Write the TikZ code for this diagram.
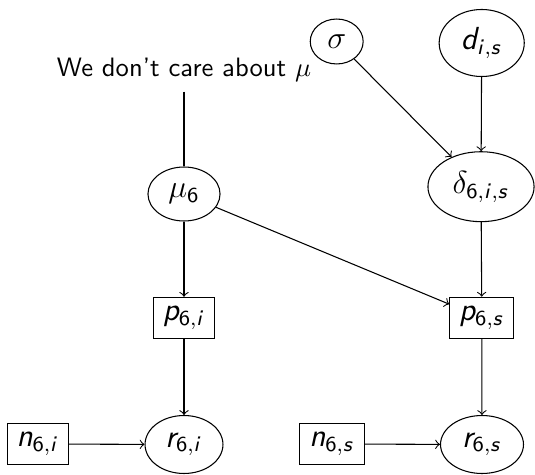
\documentclass[tikz,border=0pt]{standalone}
\usetikzlibrary{shapes.geometric}
% sans italic letters and sans digits in math, Greek stays default
\DeclareMathAlphabet{\mathsfit}{OT1}{cmss}{m}{sl}
\DeclareMathAlphabet{\mathsfup}{OT1}{cmss}{m}{n}
\newcommand{\vv}[1]{\mathsfit{#1}}
\newcommand{\dg}[1]{\mathsfup{#1}}
\begin{document}
\begin{tikzpicture}[x=0.376pt,y=-0.376pt,
  every node/.style={font=\sffamily},
  var/.style={draw,ellipse,inner sep=0pt,font=\sffamily\large},
  obs/.style={draw,rectangle,inner sep=0pt,minimum height=15.4pt,font=\sffamily\large},
  edge/.style={->,>=to}]
\useasboundingbox (0,0) rectangle (535,474);

\node[anchor=base] (note) at (184,77) {We don’t care about $\mu$};
\node[var,minimum width=19.9pt,minimum height=16.9pt] (sigma) at (336.7,41.5) {$\sigma$};
\node[var,minimum width=32pt,minimum height=25.2pt] (d) at (481.7,43) {$\vv{d}_{\vv{i},\vv{s}}$};
\node[var,minimum width=39.9pt,minimum height=26.3pt] (delta) at (481,186.7) {$\delta_{\dg{6},\vv{i},\vv{s}}$};
\node[var,minimum width=27.1pt,minimum height=20.3pt] (mu) at (184,194) {$\mu_{\dg{6}}$};
\node[obs,minimum width=22.9pt] (pi) at (184,317.8) {$\vv{p}_{\dg{6},\vv{i}}$};
\node[obs,minimum width=24.1pt] (ps) at (481.8,317.7) {$\vv{p}_{\dg{6},\vv{s}}$};
\node[var,minimum width=29.3pt,minimum height=21.8pt] (ri) at (184,444.5) {$\vv{r}_{\dg{6},\vv{i}}$};
\node[var,minimum width=31.2pt,minimum height=21.8pt] (rs) at (482,444.5) {$\vv{r}_{\dg{6},\vv{s}}$};
\node[obs,minimum width=22.9pt] (ni) at (37.8,444) {$\vv{n}_{\dg{6},\vv{i}}$};
\node[obs,minimum width=24.1pt] (ns) at (332,444) {$\vv{n}_{\dg{6},\vv{s}}$};

\draw (note) -- (mu);
\draw[edge] (sigma) -- (delta);
\draw[edge] (d) -- (delta);
\draw[edge] (delta) -- (ps);
\draw[edge] (mu) -- (ps);
\draw[edge] (mu) -- (pi);
\draw[edge] (pi) -- (ri);
\draw[edge] (ps) -- (rs);
\draw[edge] (ni) -- (ri);
\draw[edge] (ns) -- (rs);
\end{tikzpicture}
\end{document}
